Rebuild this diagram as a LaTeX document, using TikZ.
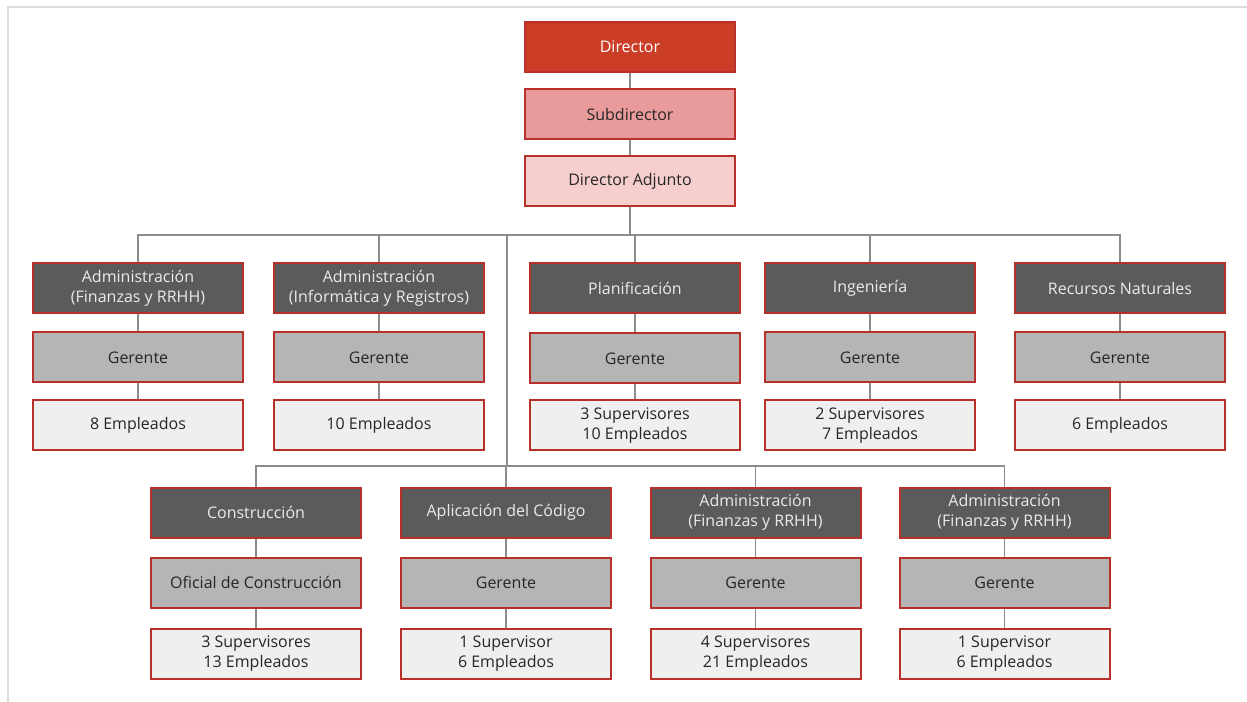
\documentclass[tikz,border=0pt]{standalone}
\usepackage{fontspec}
\setmainfont{Open Sans}

\definecolor{boxred}{HTML}{B8302A}
\definecolor{dirred}{HTML}{CC3D27}
\definecolor{subpink}{HTML}{E99B9B}
\definecolor{adjpink}{HTML}{F6CECE}
\definecolor{deptgray}{HTML}{5B5B5B}
\definecolor{mgrgray}{HTML}{B5B5B5}
\definecolor{stafflight}{HTML}{EFEFEF}
\definecolor{linkgray}{HTML}{8C8C8C}
\definecolor{framegray}{HTML}{DCDCDC}

\tikzset{every picture/.style={line width=0.75pt}}
\tikzset{
  orgbox/.style={draw=boxred, line width=1.5pt, minimum width=157.5pt, minimum height=37.5pt,
    inner sep=0pt, align=center, font=\fontsize{12}{15}\selectfont, text=black!85},
  headbox/.style={orgbox, fill=dirred, text=white},
  subbox/.style={orgbox, fill=subpink},
  adjbox/.style={orgbox, fill=adjpink},
  deptbox/.style={orgbox, fill=deptgray, text=white!92!black},
  mgrbox/.style={orgbox, fill=mgrgray},
  staffbox/.style={orgbox, fill=stafflight},
  link/.style={draw=linkgray, line width=1.1pt}
}

\begin{document}
\begin{tikzpicture}[x=0.75pt,y=0.75pt,yscale=-1,xscale=1]
\useasboundingbox (0,0) rectangle (1247,702);

% Frame
\draw [framegray, line width=1.5pt] (8,702) -- (8,7) -- (1247,7);

% Text Node
\node [headbox] (dir) at (630,47) {Director};
% Text Node
\node [subbox] (sub) at (630,114.5) {Subdirector};
% Text Node
\node [adjbox] (adj) at (630,181.5) {Director Adjunto};

% Text Node
\node [deptbox] (admA) at (138,288.5) {Administración\\(Finanzas y RRHH)};
\node [mgrbox] (gerA) at (138,357.5) {Gerente};
\node [staffbox] (empA) at (138,425.5) {8 Empleados};
% Text Node
\node [deptbox] (admB) at (379,288.5) {Administración\\(Informática y Registros)};
\node [mgrbox] (gerB) at (379,357.5) {Gerente};
\node [staffbox] (empB) at (379,425.5) {10 Empleados};
% Text Node
\node [deptbox] (plan) at (635,288.5) {Planificación};
\node [mgrbox] (gerC) at (635,358.5) {Gerente};
\node [staffbox] (empC) at (635,425.5) {3 Supervisores\\10 Empleados};
% Text Node
\node [deptbox] (ing) at (870,288.5) {Ingeniería};
\node [mgrbox] (gerD) at (870,357.5) {Gerente};
\node [staffbox] (empD) at (870,425.5) {2 Supervisores\\7 Empleados};
% Text Node
\node [deptbox] (rec) at (1120,288.5) {Recursos Naturales};
\node [mgrbox] (gerE) at (1120,357.5) {Gerente};
\node [staffbox] (empE) at (1120,425.5) {6 Empleados};

% Text Node
\node [deptbox] (cons) at (256,512.5) {Construcción};
\node [mgrbox] (ofic) at (256,582.5) {Oficial de Construcción};
\node [staffbox] (empF) at (256,653.5) {3 Supervisores\\13 Empleados};
% Text Node
\node [deptbox] (apl) at (506,512.5) {Aplicación del Código};
\node [mgrbox] (gerG) at (506,582.5) {Gerente};
\node [staffbox] (empG) at (506,653.5) {1 Supervisor\\6 Empleados};
% Text Node
\node [deptbox] (admC) at (755.5,512.5) {Administración\\(Finanzas y RRHH)};
\node [mgrbox] (gerH) at (755.5,582.5) {Gerente};
\node [staffbox] (empH) at (755.5,653.5) {4 Supervisores\\21 Empleados};
% Text Node
\node [deptbox] (admD) at (1004.5,512.5) {Administración\\(Finanzas y RRHH)};
\node [mgrbox] (gerI) at (1004.5,582.5) {Gerente};
\node [staffbox] (empI) at (1004.5,653.5) {1 Supervisor\\6 Empleados};

% Bus points
\coordinate (busA) at (630,235);
\coordinate (trunk) at (507,235);
\coordinate (busB) at (507,466);

% Connection
\draw [link] (dir) -- (sub) -- (adj) -- (busA);
\draw [link] (admA.north) |- (busA);
\draw [link] (admB.north) |- (busA);
\draw [link] (plan.north) |- (busA);
\draw [link] (ing.north) |- (busA);
\draw [link] (rec.north) |- (busA);
\draw [link] (trunk) -- (busB);
% Connection
\draw [link] (cons.north) |- (busB);
\draw [link] (apl.north) |- (busB);
\draw [link] (admC.north) |- (busB);
\draw [link] (admD.north) |- (busB);
% Connection
\draw [link] (admA) -- (gerA) -- (empA);
\draw [link] (admB) -- (gerB) -- (empB);
\draw [link] (plan) -- (gerC) -- (empC);
\draw [link] (ing) -- (gerD) -- (empD);
\draw [link] (rec) -- (gerE) -- (empE);
\draw [link] (cons) -- (ofic) -- (empF);
\draw [link] (apl) -- (gerG) -- (empG);
\draw [link] (admC) -- (gerH) -- (empH);
\draw [link] (admD) -- (gerI) -- (empI);

\end{tikzpicture}
\end{document}
